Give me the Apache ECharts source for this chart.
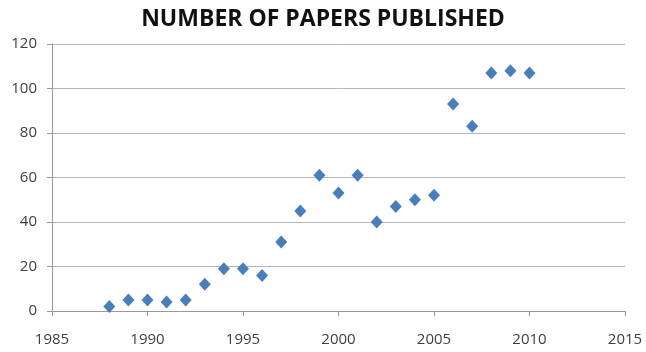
<!DOCTYPE html>
<html><head><meta charset="utf-8">
<script src="https://cdn.jsdelivr.net/npm/echarts@6/dist/echarts.min.js"></script>
<style>html,body{margin:0;padding:0;background:#fff}#c{width:646px;height:352px}</style>
</head><body><div id="c"></div>
<script>
var years = [1988,1989,1990,1991,1992,1993,1994,1995,1996,1997,1998,1999,2000,2001,2002,2003,2004,2005,2006,2007,2008,2009,2010];
var papers = [2,5,5,4,5,12,19,19,16,31,45,61,53,61,40,47,50,52,93,83,107,108,107];
var title = 'NUMBER OF PAPERS PUBLISHED';
var chart = echarts.init(document.getElementById('c'));
chart.setOption({
  animation:false,
  title:{text:title,left:'center',top:3,textStyle:{fontFamily:'Open Sans',fontWeight:'bold',fontSize:23,color:'#111'}},
  grid:{left:52,right:21,top:44,bottom:41},
  xAxis:{type:'value',min:1985,max:2015,interval:5,
    axisLine:{lineStyle:{color:'#999'}},
    axisTick:{show:true,length:5,lineStyle:{color:'#999'}},
    splitLine:{show:false},
    axisLabel:{color:'#404040',fontSize:15,fontFamily:'Open Sans',margin:21,formatter:function(v){return String(v);}}},
  yAxis:{type:'value',min:0,max:120,interval:20,
    axisLine:{show:true,lineStyle:{color:'#999'}},
    axisTick:{show:true,length:5,lineStyle:{color:'#999'}},
    splitLine:{lineStyle:{color:'#b5b5b5'}},
    axisLabel:{color:'#404040',fontSize:15,fontFamily:'Open Sans',margin:15}},
  series:[{type:'scatter',symbol:'diamond',symbolSize:[12,13],
    itemStyle:{color:'#4a7ebb',opacity:1},
    data:years.map(function(y,i){return [y,papers[i]];})}]
});
</script></body></html>
